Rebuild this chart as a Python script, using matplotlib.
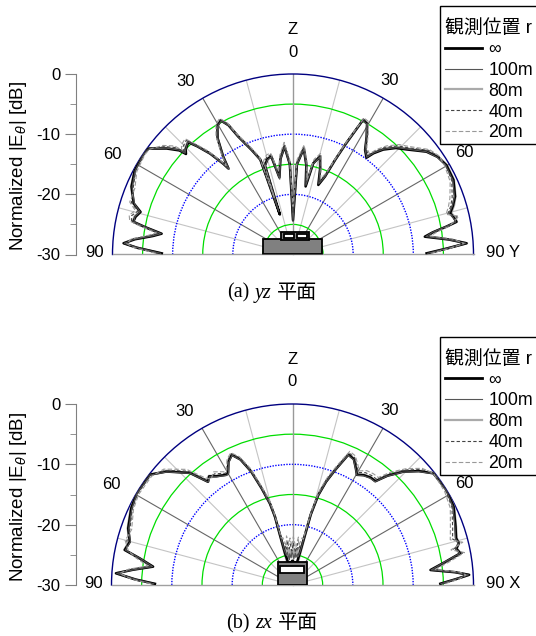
import numpy as np
import matplotlib
matplotlib.use('Agg')
import matplotlib.pyplot as plt
from matplotlib.patches import Rectangle
from matplotlib.lines import Line2D
from matplotlib.offsetbox import TextArea, HPacker, AnnotationBbox

plt.rcParams['font.family'] = ['Liberation Sans', 'Noto Sans CJK JP']

# ---- data: angle [deg], normalized level [dB] ----
series_names = ['∞', '100m', '80m', '40m', '20m']

yz_theta = [
    -89.5, -87.5, -86.2, -84.5, -82.5, -81.0, -79.5, -78.4, -76.5, -74.4,
    -72.2, -67.2, -62.0, -56.0, -53.8, -50.0, -47.5, -46.8, -45.5, -43.0,
    -41.5, -39.4, -37.5, -36.9, -35.5, -33.0, -30.5, -28.3, -26.5, -24.9,
    -21.6, -19.0, -18.2, -17.5, -15.0, -12.5, -10.0, -7.5, -4.5, -2.0,
    0.0, 2.5, 5.8, 8.5, 10.5, 12.5, 15.4, 17.5, 20.0, 22.3,
    24.0, 25.5, 27.5, 29.5, 32.0, 34.6, 37.2, 38.5, 40.7, 44.0,
    47.2, 52.4, 56.0, 59.8, 65.1, 70.3, 73.0, 75.3, 77.0, 78.7,
    79.7, 81.0, 82.3, 84.5, 86.3, 87.8, 89.5]
yz_inf = [
    -8.2, -4.0, -1.8, -3.6, -6.5, -7.9, -5.0, -2.9, -3.1, -3.7,
    -2.2, -0.9, -0.2, 0.0, -0.2, -2.6, -4.4, -5.6, -5.0, -4.5,
    -6.0, -8.3, -11.0, -12.1, -10.0, -7.0, -5.2, -4.7, -6.0, -8.4,
    -11.3, -13.3, -23.0, -14.5, -13.6, -13.3, -17.0, -14.0, -12.0, -15.0,
    -24.3, -15.0, -12.3, -15.0, -18.5, -14.5, -13.1, -15.0, -17.7, -16.0,
    -12.8, -9.6, -4.8, -5.0, -6.9, -8.9, -9.8, -8.5, -7.0, -5.4,
    -4.3, -2.0, -1.0, -0.5, -0.6, -1.4, -2.2, -3.0, -2.6, -2.3,
    -4.1, -6.5, -7.9, -4.0, -1.1, -4.5, -7.8]
yz_100 = [
    -8.0, -4.2, -1.9, -3.5, -6.4, -7.8, -5.1, -3.0, -3.0, -3.6,
    -2.3, -1.0, -0.3, -0.1, -0.3, -2.5, -4.3, -5.4, -5.0, -4.4,
    -6.1, -8.4, -11.2, -12.3, -10.1, -7.1, -5.3, -4.8, -6.1, -8.5,
    -11.4, -13.5, -22.5, -14.6, -13.7, -13.4, -17.3, -14.1, -12.1, -15.2,
    -24.5, -15.1, -12.4, -15.1, -18.3, -14.6, -13.2, -15.1, -17.5, -16.1,
    -12.9, -9.7, -4.9, -5.1, -7.0, -8.9, -9.7, -8.4, -6.9, -5.3,
    -4.2, -2.0, -1.1, -0.6, -0.7, -1.5, -2.3, -3.2, -2.7, -2.4,
    -4.3, -6.6, -7.7, -4.1, -1.2, -4.6, -7.6]
yz_80 = [
    -8.1, -4.1, -1.7, -3.4, -6.3, -7.7, -4.8, -2.8, -2.9, -3.5,
    -2.1, -0.8, -0.2, 0.0, -0.1, -2.4, -4.2, -5.3, -4.9, -4.3,
    -5.9, -8.2, -11.1, -12.2, -10.1, -7.1, -5.3, -4.6, -6.0, -8.3,
    -11.2, -13.4, -22.0, -14.4, -13.5, -13.2, -16.8, -13.9, -11.9, -14.9,
    -23.8, -14.9, -12.2, -14.9, -18.2, -14.4, -13.0, -14.9, -17.4, -15.9,
    -12.7, -9.5, -4.7, -5.0, -6.8, -8.8, -9.6, -8.3, -6.8, -5.2,
    -4.1, -1.8, -0.9, -0.4, -0.5, -1.3, -2.0, -2.8, -2.4, -2.2,
    -4.0, -6.4, -7.6, -3.8, -1.0, -4.4, -7.5]
yz_40 = [
    -7.6, -3.8, -2.0, -3.2, -6.0, -7.4, -4.5, -2.6, -2.4, -3.2,
    -1.8, -1.2, -0.4, -0.2, -0.3, -2.1, -3.7, -5.0, -4.4, -4.0,
    -5.7, -8.0, -10.8, -11.8, -9.8, -6.8, -5.0, -4.5, -5.8, -8.2,
    -11.0, -13.0, -21.0, -14.0, -13.2, -13.0, -16.5, -13.6, -11.6, -14.6,
    -23.0, -14.6, -12.0, -14.6, -17.8, -14.1, -12.8, -14.6, -17.0, -15.6,
    -12.5, -9.3, -4.6, -4.8, -6.6, -8.6, -9.3, -8.0, -6.5, -4.9,
    -3.9, -1.6, -0.8, -0.6, -0.9, -1.9, -2.6, -3.4, -2.0, -2.6,
    -3.8, -6.0, -7.3, -3.6, -1.3, -4.2, -7.2]
yz_20 = [
    -7.2, -3.5, -2.3, -3.0, -5.7, -7.0, -4.2, -2.3, -2.0, -2.8,
    -1.5, -1.5, -0.6, -0.3, -0.4, -1.8, -3.3, -4.6, -4.0, -3.7,
    -5.4, -7.7, -10.5, -11.5, -9.5, -6.5, -4.8, -4.3, -5.6, -8.0,
    -10.8, -12.8, -20.0, -13.7, -12.9, -12.7, -16.0, -13.3, -11.3, -14.2,
    -22.0, -14.2, -11.7, -14.3, -17.4, -13.8, -12.5, -14.3, -16.6, -15.3,
    -12.2, -9.0, -4.4, -4.6, -6.4, -8.4, -9.0, -7.7, -6.2, -4.6,
    -3.6, -1.4, -0.7, -0.8, -1.2, -2.3, -3.0, -3.7, -1.7, -2.9,
    -3.5, -5.6, -7.0, -3.3, -1.5, -4.0, -7.0]

zx_theta = [
    -89.5, -88.0, -86.2, -84.5, -82.5, -80.1, -78.2, -75.1, -71.0, -64.5,
    -59.5, -52.3, -48.0, -42.5, -39.3, -37.5, -35.0, -31.0, -29.9, -27.5,
    -25.0, -22.5, -20.0, -17.7, -15.5, -14.4, -13.3, -11.5, -9.0, -7.0,
    -5.0, -3.0, -1.0, 1.0, 3.0, 5.0, 7.0, 9.0, 11.5, 13.0,
    14.5, 16.0, 18.0, 20.5, 23.2, 26.0, 28.5, 30.3, 33.0, 36.0,
    38.6, 41.0, 44.4, 48.0, 51.6, 58.4, 64.0, 70.3, 74.0, 75.9,
    77.5, 79.3, 81.5, 83.8, 85.5, 86.7, 88.0, 89.5]
zx_inf = [
    -7.2, -4.0, -0.7, -3.5, -6.7, -4.3, -1.6, -2.1, -1.2, -0.4,
    0.0, -0.1, -1.9, -4.8, -7.9, -7.3, -8.0, -8.7, -8.6, -7.0,
    -6.2, -7.5, -10.0, -13.2, -16.0, -18.3, -24.6, -26.0, -26.3, -26.5,
    -26.2, -26.5, -26.0, -26.0, -26.5, -26.2, -26.5, -26.3, -26.0, -24.5,
    -18.0, -14.5, -12.0, -9.5, -6.5, -6.8, -8.0, -8.85, -8.3, -8.0,
    -8.0, -6.0, -3.7, -1.8, -0.2, 0.0, -0.3, -1.3, -1.8, -1.6,
    -2.2, -1.7, -4.5, -7.0, -3.0, -0.7, -3.0, -5.5]
zx_100 = [
    -7.0, -4.1, -0.8, -3.6, -6.6, -4.4, -1.7, -2.2, -1.3, -0.5,
    -0.1, -0.2, -2.0, -4.9, -8.0, -7.4, -8.1, -8.8, -8.7, -7.1,
    -6.3, -7.6, -10.1, -13.3, -16.1, -18.5, -24.0, -25.0, -24.5, -25.8,
    -24.8, -25.5, -24.6, -24.9, -25.6, -24.7, -25.4, -24.8, -25.2, -24.2,
    -18.2, -14.6, -12.1, -9.6, -6.6, -6.9, -8.1, -8.9, -8.4, -8.1,
    -8.1, -6.1, -3.8, -1.9, -0.3, -0.1, -0.4, -1.4, -1.9, -1.7,
    -2.3, -1.8, -4.6, -6.9, -3.1, -0.8, -3.1, -5.4]
zx_80 = [
    -7.1, -3.9, -0.6, -3.4, -6.5, -4.2, -1.5, -2.0, -1.1, -0.3,
    0.0, -0.1, -1.8, -4.7, -7.8, -7.2, -7.9, -8.6, -8.5, -6.9,
    -6.1, -7.4, -9.9, -13.1, -15.9, -18.1, -23.5, -24.0, -25.5, -23.8,
    -25.0, -24.2, -25.3, -23.9, -24.8, -25.2, -24.0, -25.1, -24.3, -23.8,
    -17.8, -14.4, -11.9, -9.4, -6.4, -6.7, -7.9, -8.7, -8.2, -7.9,
    -7.9, -5.9, -3.6, -1.7, -0.1, 0.0, -0.2, -1.2, -1.7, -1.5,
    -2.1, -1.6, -4.4, -6.8, -2.9, -0.6, -2.9, -5.3]
zx_40 = [
    -6.8, -3.7, -1.0, -3.0, -6.2, -3.9, -1.9, -1.6, -1.5, -0.6,
    -0.2, -0.3, -1.6, -4.4, -7.4, -7.6, -7.5, -8.4, -8.3, -6.7,
    -6.0, -7.2, -9.6, -12.8, -15.5, -17.6, -22.8, -23.0, -24.2, -22.6,
    -24.0, -23.2, -24.4, -23.0, -23.8, -24.6, -23.1, -24.2, -23.0, -23.0,
    -17.3, -14.0, -11.6, -9.1, -6.2, -6.5, -7.6, -8.4, -7.8, -7.6,
    -7.6, -5.6, -3.3, -1.4, 0.0, -0.2, -0.6, -1.8, -2.4, -1.2,
    -2.7, -1.3, -4.0, -6.5, -2.6, -0.9, -2.7, -5.0]
zx_20 = [
    -6.5, -3.4, -1.3, -2.7, -5.8, -3.6, -2.2, -1.3, -1.8, -0.8,
    -0.4, -0.5, -1.3, -4.0, -7.0, -7.9, -7.1, -8.1, -8.0, -6.5,
    -5.8, -7.0, -9.3, -12.5, -15.1, -17.0, -22.0, -22.0, -23.5, -21.8,
    -23.2, -22.2, -23.6, -22.0, -23.0, -23.8, -22.0, -23.4, -22.0, -22.2,
    -16.8, -13.6, -11.2, -8.8, -5.9, -6.2, -7.3, -8.1, -7.4, -7.2,
    -7.2, -5.2, -3.0, -1.1, -0.2, -0.4, -0.9, -2.2, -2.8, -0.9,
    -3.1, -1.0, -3.6, -6.2, -2.3, -1.2, -2.4, -4.7]

db_ticks = [0, -10, -20, -30]
db_labels = ['0', '-10', '-20', '-30']

# line styles per series (drawing order: 80m under the rest)
styles = {
    '∞':    dict(color='black', lw=1.8),
    '100m': dict(color='#555555', lw=0.8),
    '80m':  dict(color='#aaaaaa', lw=1.6),
    '40m':  dict(color='#444444', lw=0.8, ls=(0, (3, 2))),
    '20m':  dict(color='#999999', lw=0.8, ls=(0, (4, 2))),
}
draw_order = ['80m', '∞', '100m', '40m', '20m']

W, H = 536, 636
fig = plt.figure(figsize=(W / 100, H / 100), dpi=100)


def px_rect(x0, y_top, w, h):
    """pixel box (image coords) -> figure fraction rect"""
    return [x0 / W, 1 - (y_top + h) / H, w / W, h / H]


def draw_panel(cx, cy, R, theta, curves, axis_letter, caption_tag, caption_ax, icon):
    # a half-disk polar axes is centred in a square box: disk centre at 1/4 height
    ax = fig.add_axes(px_rect(cx - R, cy - 1.5 * R, 2 * R, 2 * R), projection='polar')
    ax.set_theta_zero_location('N')
    ax.set_theta_direction(-1)
    ax.set_thetamin(-90)
    ax.set_thetamax(90)
    ax.set_ylim(-30, 0)

    # level circles
    ax.set_yticks([-25, -15, -5])
    ax.set_yticks([-20, -10], minor=True)
    ax.set_yticklabels([])
    ax.set_yticklabels([], minor=True)
    ax.yaxis.grid(True, which='major', color='#00dd00', lw=0.9, ls='-')
    ax.yaxis.grid(True, which='minor', color='#0000ff', lw=1.0, ls=(0, (1, 1)))
    # angle spokes
    ax.set_xticks(np.deg2rad([-60, -30, 30, 60]))
    ax.set_xticks(np.deg2rad([-75, -45, -15, 15, 45, 75]), minor=True)
    ax.set_xticklabels([])
    ax.set_xticklabels([], minor=True)
    ax.xaxis.grid(True, which='major', color='#666666', lw=0.8)
    ax.xaxis.grid(True, which='minor', color='#c4c4c4', lw=0.8)
    ax.tick_params(which='both', length=0)
    ax.plot([0, 0], [-30, 0], color='#999999', lw=1.0, zorder=1.6)

    ax.spines['polar'].set_color('#000080')
    ax.spines['polar'].set_linewidth(1.0)
    for s in ['start', 'end']:
        ax.spines[s].set_color('#a0a0a0')
        ax.spines[s].set_linewidth(1.0)
    ax.spines['inner'].set_visible(False)

    th = np.deg2rad(theta)
    for name in draw_order:
        ax.plot(th, curves[name], zorder=3, **styles[name])

    # angle labels (radius in dB beyond the 0 dB rim)
    lab = dict(ha='center', va='center', fontsize=12, clip_on=False)
    ax.text(0, 3.65, '0', **lab)
    ax.text(0, 7.4, 'Z', **lab)
    ax.text(np.deg2rad(-31.9), 3.9, '30', **lab)
    ax.text(np.deg2rad(29.2), 3.05, '30', **lab)
    ax.text(np.deg2rad(-61.0), 4.4, '60', **lab)
    ax.text(np.deg2rad(59.3), 3.05, '60', **lab)
    ax.text(np.deg2rad(-89.5), 2.9, '90', **lab)
    ax.text(np.deg2rad(89.5), 2.0, '90 ' + axis_letter,
            ha='left', va='center', fontsize=12, clip_on=False)

    # antenna sketch, given in px: (dx from centre, height above base, w, h)
    for (dx, dy, w, h, fc) in icon:
        ax.add_patch(Rectangle((0.5 + dx / (2 * R), 0.25 + dy / (2 * R)),
                               w / (2 * R), h / (2 * R), transform=ax.transAxes,
                               facecolor=fc, edgecolor='black', lw=1.3, zorder=4))

    # dB scale on the left
    lax = fig.add_axes(px_rect(76, cy - R, 0.2, R))
    for s in ['top', 'right', 'bottom']:
        lax.spines[s].set_visible(False)
    lax.spines['left'].set_color('#808080')
    lax.patch.set_visible(False)
    lax.set_ylim(-30, 0)
    lax.set_xticks([])
    lax.set_yticks(db_ticks)
    lax.set_yticklabels(db_labels)
    lax.set_yticks([-5, -15, -25], minor=True)
    lax.tick_params(axis='y', which='major', length=8, color='#808080',
                    labelsize=12, pad=3)
    lax.tick_params(axis='y', which='minor', length=4, color='#808080')
    fig.text(19 / W, 1 - (cy - R / 2 + 2) / H, 'Normalized |E$_\\theta$| [dB]',
             rotation=90, ha='center', va='center', fontsize=13.5)

    # legend: frame drawn separately so it runs off the right edge like the original
    top = cy - 248.5
    fig.add_artist(Rectangle((440 / W, 1 - (top + 138) / H), 110 / W, 138 / H,
                             transform=fig.transFigure, facecolor='white',
                             edgecolor='black', lw=1.0, zorder=4))
    handles = [Line2D([], [], **styles[n]) for n in series_names]
    handles[0].set_linewidth(2.0)
    leg = fig.legend(handles, series_names, title='観測位置 r', loc='upper left',
                     bbox_to_anchor=(445 / W, 1 - (top + 13) / H),
                     bbox_transform=fig.transFigure, borderaxespad=0,
                     fontsize=12.8, title_fontsize=13.6, handlelength=2.06,
                     handletextpad=0.37, labelspacing=0.22, borderpad=0,
                     frameon=False, alignment='left')
    leg.set_zorder(5)

    # caption: "(a) yz 平面"
    serif = dict(family=['Liberation Serif', 'Noto Sans CJK JP'], size=14.5, color='black')
    parts = [TextArea(caption_tag, textprops=serif),
             TextArea(caption_ax, textprops=dict(serif, style='italic')),
             TextArea('平面', textprops=serif)]
    box = HPacker(children=parts, align='baseline', pad=0, sep=4)
    fig.add_artist(AnnotationBbox(box, (272 / W, 1 - (cy + 38.5) / H),
                                  xycoords='figure fraction', frameon=False,
                                  box_alignment=(0.5, 0.5)))


yz_curves = dict(zip(series_names, [yz_inf, yz_100, yz_80, yz_40, yz_20]))
zx_curves = dict(zip(series_names, [zx_inf, zx_100, zx_80, zx_40, zx_20]))

# antenna icons: (dx, dy, w, h) in px relative to the pattern centre
icon_yz = [(-29.7, 0.0, 59.0, 15.5, '#808080'),
           (-12.3, 14.5, 28.6, 7.7, '#808080'),
           (-9.0, 16.2, 10.3, 4.0, 'white'),
           (3.7, 16.2, 10.6, 4.0, 'white')]
icon_zx = [(-14.8, 0.0, 29.6, 23.0, '#808080'),
           (-12.5, 12.3, 24.0, 7.0, 'white')]

draw_panel(293, 254.5, 180.5, yz_theta, yz_curves, 'Y', '(a)', 'yz', icon_yz)
draw_panel(292.5, 585.0, 181.0, zx_theta, zx_curves, 'X', '(b)', 'zx', icon_zx)

fig.savefig('out.png', dpi=100)
